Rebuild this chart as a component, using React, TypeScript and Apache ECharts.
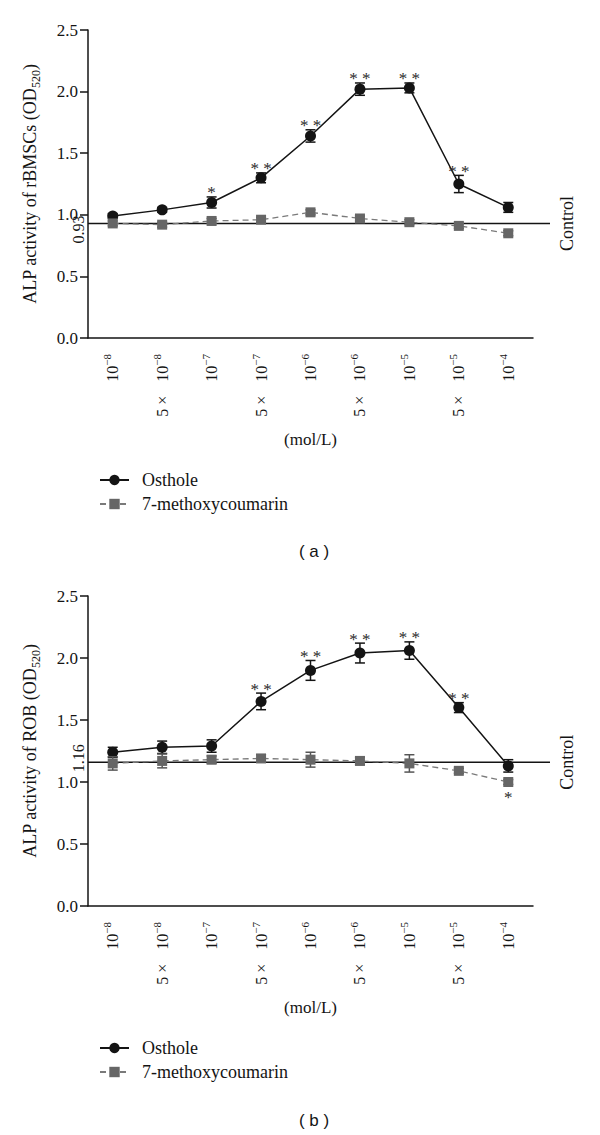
import React, { useEffect, useRef } from "react";
import * as echarts from "echarts";

// ---------- data ----------
const categories = ["1e-8", "5e-8", "1e-7", "5e-7", "1e-6", "5e-6", "1e-5", "5e-5", "1e-4"];
const tickCoef = ["", "5 ×", "", "5 ×", "", "5 ×", "", "5 ×", ""];
const tickExp = ["−8", "−8", "−7", "−7", "−6", "−6", "−5", "−5", "−4"];

// panel (a): rBMSCs
const ostholeA = [0.99, 1.04, 1.1, 1.3, 1.64, 2.02, 2.03, 1.25, 1.06];
const ostholeErrA = [0.02, 0.02, 0.045, 0.04, 0.05, 0.05, 0.04, 0.07, 0.04];
const ostholeStarsA = ["", "", "*", "* *", "* *", "* *", "* *", "* *", ""];
const methoxyA = [0.93, 0.92, 0.95, 0.96, 1.02, 0.97, 0.94, 0.91, 0.85];
const methoxyErrA = [0.02, 0.02, 0.02, 0.02, 0.02, 0.02, 0.02, 0.02, 0.02];
const methoxyStarsA = ["", "", "", "", "", "", "", "", ""];
const controlA = 0.93;

// panel (b): ROB
const ostholeB = [1.24, 1.28, 1.29, 1.65, 1.9, 2.04, 2.06, 1.6, 1.13];
const ostholeErrB = [0.04, 0.05, 0.05, 0.067, 0.08, 0.08, 0.07, 0.04, 0.05];
const ostholeStarsB = ["", "", "", "* *", "* *", "* *", "* *", "* *", ""];
const methoxyB = [1.15, 1.17, 1.18, 1.19, 1.18, 1.17, 1.15, 1.09, 1.0];
const methoxyErrB = [0.054, 0.056, 0.03, 0.03, 0.06, 0.03, 0.07, 0.02, 0.02];
const methoxyStarsB = ["", "", "", "", "", "", "", "", "*"];
const controlB = 1.16;

const seriesNames = ["Osthole", "7-methoxycoumarin"];

// ---------- styles ----------
const SERIF = "Liberation Serif, Times New Roman, serif";
const SANS = "Liberation Sans, Arial, sans-serif";
const INK = "#141414";
const GRAY_MARK = "#666666";
const GRAY_LINE = "#7a7a7a";
const GRAY_ERR = "#555555";

function errorBarSeries(values: number[], errs: number[], idx: number, color: string, z: number) {
  return {
    type: "custom",
    xAxisIndex: idx,
    yAxisIndex: idx,
    z,
    silent: true,
    data: values.map((v, i) => [i, v, errs[i]]),
    encode: { x: 0, y: 1 },
    renderItem: (params: any, api: any) => {
      const i = api.value(0);
      const v = api.value(1);
      const e = api.value(2);
      const top = api.coord([i, v + e]);
      const bot = api.coord([i, v - e]);
      const x = top[0];
      const hw = 5;
      const st = { stroke: color, lineWidth: 1.5 };
      return {
        type: "group",
        children: [
          { type: "line", shape: { x1: x, y1: top[1], x2: x, y2: bot[1] }, style: st },
          { type: "line", shape: { x1: x - hw, y1: top[1], x2: x + hw, y2: top[1] }, style: st },
          { type: "line", shape: { x1: x - hw, y1: bot[1], x2: x + hw, y2: bot[1] }, style: st },
        ],
      };
    },
  };
}

function starSeries(values: number[], errs: number[], stars: string[], idx: number, below: boolean, z: number) {
  return {
    type: "custom",
    xAxisIndex: idx,
    yAxisIndex: idx,
    z,
    silent: true,
    data: values.map((v, i) => [i, v, errs[i]]),
    encode: { x: 0, y: 1 },
    renderItem: (params: any, api: any) => {
      const i = api.value(0);
      const v = api.value(1);
      const e = api.value(2);
      const text = stars[params.dataIndex];
      if (!text) return null;
      const c = api.coord([i, v]);
      let y: number;
      if (below) {
        const b = Math.max(api.coord([i, v - e])[1], c[1] + 5);
        y = b + 10;
      } else {
        const t = Math.min(api.coord([i, v + e])[1], c[1] - 5);
        y = t - 4;
      }
      return {
        type: "text",
        x: c[0],
        y,
        style: {
          text,
          fontFamily: SERIF,
          fontSize: 17,
          fill: "#2a2a2a",
          align: "center",
          verticalAlign: "middle",
        },
      };
    },
  };
}

function controlSeries(control: number, idx: number, labelOffset: number) {
  return {
    type: "custom",
    xAxisIndex: idx,
    yAxisIndex: idx,
    z: 1,
    silent: true,
    data: [[0, control]],
    encode: { x: 0, y: 1 },
    renderItem: (params: any, api: any) => {
      const cs = params.coordSys;
      const y = api.coord([0, api.value(1)])[1];
      return {
        type: "group",
        children: [
          {
            type: "line",
            shape: { x1: cs.x, y1: y, x2: cs.x + cs.width + 17, y2: y },
            style: { stroke: INK, lineWidth: 1.5 },
          },
          {
            type: "text",
            x: cs.x - 10,
            y: y + labelOffset,
            rotation: Math.PI / 2,
            style: {
              text: control.toFixed(2),
              fontFamily: SERIF,
              fontSize: 16,
              fill: INK,
              align: "center",
              verticalAlign: "middle",
            },
          },
          {
            type: "text",
            x: cs.x + cs.width + 34,
            y,
            rotation: Math.PI / 2,
            style: {
              text: "Control",
              fontFamily: SERIF,
              fontSize: 18,
              fill: INK,
              align: "center",
              verticalAlign: "middle",
            },
          },
        ],
      };
    },
  };
}

function xAxis(idx: number) {
  return {
    type: "category",
    gridIndex: idx,
    data: categories,
    boundaryGap: true,
    axisLine: { lineStyle: { color: INK, width: 1.5 } },
    axisTick: { alignWithLabel: true, length: 7, lineStyle: { color: INK, width: 1.5 } },
    axisLabel: {
      interval: 0,
      rotate: 90,
      margin: 16,
      formatter: (_v: string, i: number) =>
        tickCoef[i] ? `{n|${tickCoef[i]}}{g| }{n|10}{s|${tickExp[i]}}` : `{n|10}{s|${tickExp[i]}}`,
      rich: {
        n: { fontFamily: SERIF, fontSize: 16, color: INK, lineHeight: 22 },
        g: { fontFamily: SERIF, fontSize: 16, color: INK, lineHeight: 22, width: 14 },
        s: { fontFamily: SERIF, fontSize: 11, color: INK, lineHeight: 11, verticalAlign: "top" },
      },
    },
    name: "(mol/L)",
    nameLocation: "middle",
    nameGap: 93,
    nameTextStyle: { fontFamily: SERIF, fontSize: 17, color: INK },
  };
}

function yAxis(idx: number, cell: string) {
  return {
    type: "value",
    gridIndex: idx,
    min: 0,
    max: 2.5,
    interval: 0.5,
    splitLine: { show: false },
    axisLine: { show: true, lineStyle: { color: INK, width: 1.5 } },
    axisTick: { show: true, length: 8, lineStyle: { color: INK, width: 1.5 } },
    axisLabel: {
      margin: 10,
      fontFamily: SERIF,
      fontSize: 17,
      color: INK,
      formatter: (v: number) => v.toFixed(1),
    },
    name: `{a|ALP activity of ${cell} (OD}{s|520}{a|)}`,
    nameLocation: "middle",
    nameRotate: 90,
    nameGap: 46,
    nameTextStyle: {
      rich: {
        a: { fontFamily: SERIF, fontSize: 18, color: INK, lineHeight: 24 },
        s: { fontFamily: SERIF, fontSize: 12, color: INK, lineHeight: 12, verticalAlign: "bottom" },
      },
    },
  };
}

function lineSeries(idx: number, osthole: number[], methoxy: number[]) {
  return [
    {
      type: "line",
      name: seriesNames[0],
      xAxisIndex: idx,
      yAxisIndex: idx,
      z: 3,
      data: osthole,
      symbol: "circle",
      symbolSize: 11,
      showAllSymbol: true,
      lineStyle: { color: INK, width: 1.5 },
      itemStyle: { color: INK },
    },
    {
      type: "line",
      name: seriesNames[1],
      xAxisIndex: idx,
      yAxisIndex: idx,
      z: 5,
      data: methoxy,
      symbol: "rect",
      symbolSize: 10,
      showAllSymbol: true,
      lineStyle: { color: GRAY_LINE, width: 1.3, type: [6, 4] },
      itemStyle: { color: GRAY_MARK },
    },
  ];
}

function legend(top: number) {
  return {
    data: seriesNames,
    orient: "vertical",
    left: 99,
    top,
    padding: 0,
    itemWidth: 29,
    itemHeight: 13,
    itemGap: 6,
    selectedMode: false,
    textStyle: { fontFamily: SERIF, fontSize: 18, color: INK, padding: [0, 0, 0, 8] },
  };
}

export default function App() {
  const ref = useRef<HTMLDivElement>(null);
  useEffect(() => {
    if (!ref.current) return;
    const chart = echarts.init(ref.current, undefined, { renderer: "svg" });
    chart.setOption({
      animation: false,
      backgroundColor: "#ffffff",
      grid: [
        { left: 88, top: 30, width: 445, height: 308 },
        { left: 88, top: 596, width: 445, height: 310 },
      ],
      xAxis: [xAxis(0), xAxis(1)],
      yAxis: [yAxis(0, "rBMSCs"), yAxis(1, "ROB")],
      legend: [legend(471), legend(1039)],
      graphic: [
        {
          type: "text",
          x: 314,
          y: 551,
          style: { text: "( a )", fontFamily: SANS, fontSize: 17, fill: INK, align: "center", verticalAlign: "middle" },
        },
        {
          type: "text",
          x: 314,
          y: 1120,
          style: { text: "( b )", fontFamily: SANS, fontSize: 17, fill: INK, align: "center", verticalAlign: "middle" },
        },
      ],
      series: [
        controlSeries(controlA, 0, 6),
        errorBarSeries(ostholeA, ostholeErrA, 0, INK, 2),
        ...lineSeries(0, ostholeA, methoxyA),
        errorBarSeries(methoxyA, methoxyErrA, 0, GRAY_ERR, 4),
        starSeries(ostholeA, ostholeErrA, ostholeStarsA, 0, false, 6),
        starSeries(methoxyA, methoxyErrA, methoxyStarsA, 0, true, 6),

        controlSeries(controlB, 1, -4),
        errorBarSeries(ostholeB, ostholeErrB, 1, INK, 2),
        ...lineSeries(1, ostholeB, methoxyB),
        errorBarSeries(methoxyB, methoxyErrB, 1, GRAY_ERR, 4),
        starSeries(ostholeB, ostholeErrB, ostholeStarsB, 1, false, 6),
        starSeries(methoxyB, methoxyErrB, methoxyStarsB, 1, true, 6),
      ],
    });
    return () => chart.dispose();
  }, []);
  return (
    <div
      ref={ref}
      style={{ position: "absolute", left: 0, top: 0, width: 600, height: 1135, background: "#fff" }}
    />
  );
}
